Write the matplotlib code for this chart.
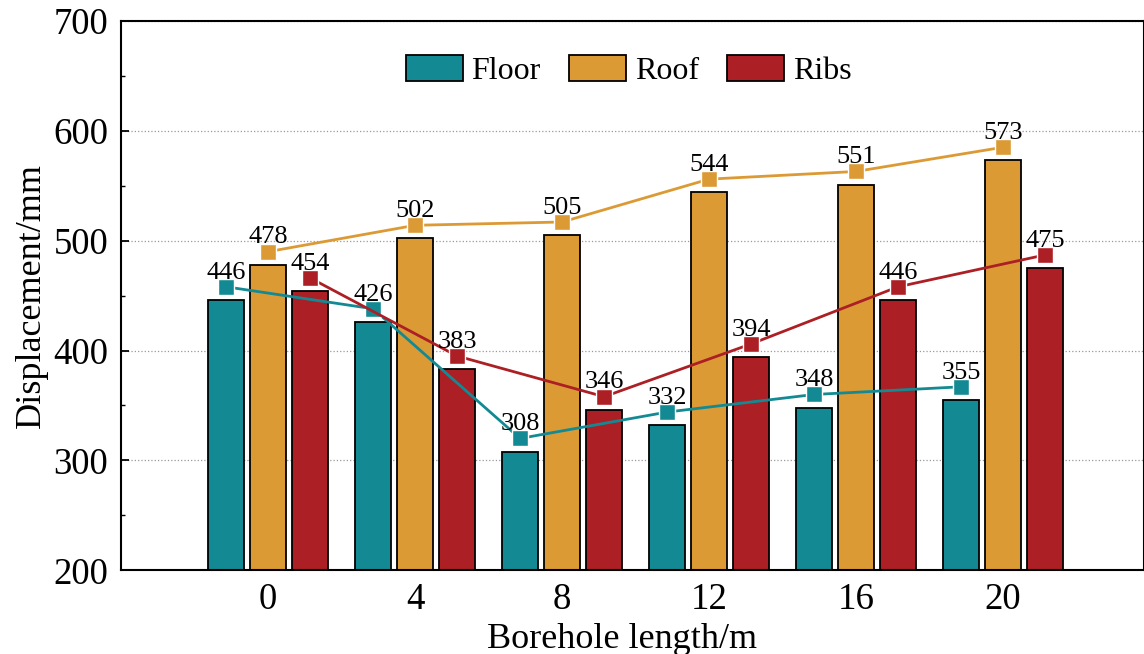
import numpy as np
import matplotlib.pyplot as plt
from matplotlib.ticker import MultipleLocator

plt.rcParams['font.family'] = ['Liberation Serif', 'DejaVu Serif']

lengths = ['0', '4', '8', '12', '16', '20']
floor = [446, 426, 308, 332, 348, 355]
roof = [478, 502, 505, 544, 551, 573]
ribs = [454, 383, 346, 394, 446, 475]

names = ['Floor', 'Roof', 'Ribs']
colors = ['#138A93', '#DC9A35', '#AC1F24']

fig = plt.figure(figsize=(11.44, 6.54), dpi=100)
ax = fig.add_axes([0.106, 0.128, 0.894, 0.84])

x = np.arange(len(lengths))
w = 0.245
offsets = [-0.286, 0.0, 0.286]

for vals, name, c, off in zip([floor, roof, ribs], names, colors, offsets):
    ax.bar(x + off, vals, w, color=c, edgecolor='black', linewidth=1.3,
           label=name, zorder=2)
    # markers sit slightly above the bar tops
    yv = np.array(vals) + 12
    ax.plot(x + off, yv, color=c, lw=2, marker='s', markersize=12,
            markeredgecolor='white', markeredgewidth=1, zorder=4)
    for xi, v, yy in zip(x + off, vals, yv):
        ax.text(xi, yy + 7.5, str(v), ha='center', va='baseline',
                fontsize=19, zorder=5)

ax.set_xlim(-1, 5.96)
ax.set_ylim(200, 700)
ax.set_xticks(x)
ax.set_xticklabels(lengths)
ax.yaxis.set_major_locator(MultipleLocator(100))
ax.yaxis.set_minor_locator(MultipleLocator(50))
ax.tick_params(axis='y', which='major', direction='in', length=6, width=1.3,
               labelsize=26.5, pad=9.5)
ax.tick_params(axis='y', which='minor', direction='in', length=3, width=1.0)
ax.tick_params(axis='x', length=0, labelsize=26.5, pad=9)
ax.grid(axis='y', linestyle=':', color='#999999', linewidth=0.9, zorder=0)
ax.set_axisbelow(True)
for s in ax.spines.values():
    s.set_linewidth(1.5)

ax.set_xlabel('Borehole length/m', fontsize=26, labelpad=4)
ax.xaxis.label.set_x(0.49)
ax.set_ylabel('Displacement/mm', fontsize=26, labelpad=4)

ax.legend(loc='upper center', bbox_to_anchor=(0.496, 0.99), ncol=3,
          frameon=False, fontsize=23, handlelength=1.78, handleheight=0.875,
          columnspacing=0.88, handletextpad=0.28)

fig.savefig('out.png', dpi=100)
